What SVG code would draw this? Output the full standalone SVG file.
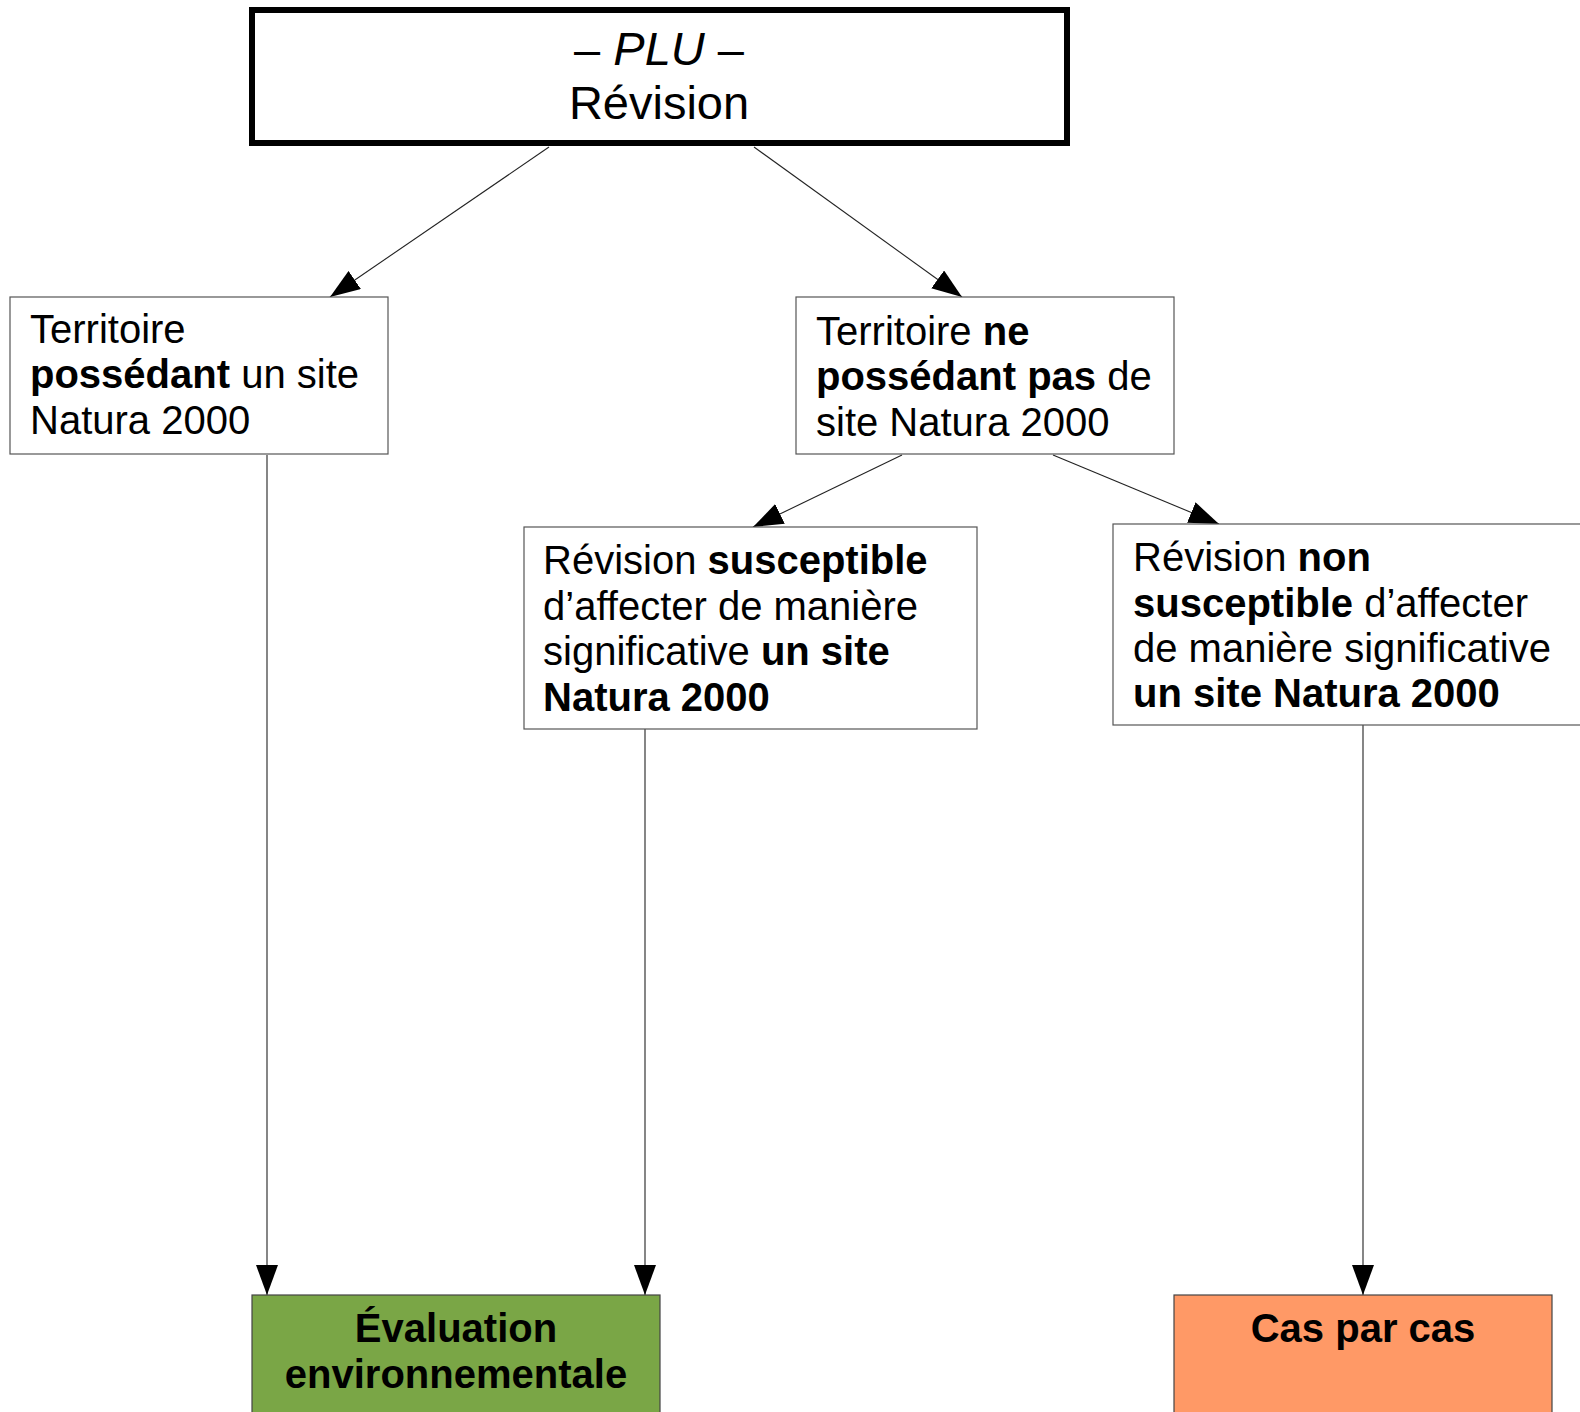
<svg xmlns="http://www.w3.org/2000/svg" width="1580" height="1412" viewBox="0 0 1580 1412">
<style>
text{font-family:"Liberation Sans",Arial,sans-serif;fill:#000}
.t{font-size:40px}
.b{font-weight:bold}
.box{fill:#fff;stroke:#555;stroke-width:1.2}
.edge{stroke:#222;stroke-width:1.1;fill:none;marker-end:url(#ah)}
</style>
<defs>
<marker id="ah" markerUnits="userSpaceOnUse" markerWidth="30" markerHeight="22" refX="30" refY="11" orient="auto" viewBox="0 0 30 22">
<path d="M0,0 L30,11 L0,22 z" fill="#000"/>
</marker>
</defs>
<rect width="1580" height="1412" fill="#fff"/>
<g id="connectors">
<line class="edge" x1="549" y1="147" x2="330" y2="297"/>
<line class="edge" x1="754" y1="147" x2="962" y2="297"/>
<line class="edge" x1="902" y1="455" x2="753" y2="527"/>
<line class="edge" x1="1053" y1="455" x2="1219" y2="524"/>
<line class="edge" x1="267" y1="455" x2="267" y2="1295"/>
<line class="edge" x1="645" y1="729" x2="645" y2="1295"/>
<line class="edge" x1="1363" y1="725" x2="1363" y2="1295"/>
</g>
<g id="n-plu">
<rect x="252" y="10" width="815" height="133" fill="#fff" stroke="#000" stroke-width="6"/>
<text x="659" y="65" text-anchor="middle" style="font-size:47px"><tspan>– </tspan><tspan font-style="italic">PLU</tspan><tspan> –</tspan></text>
<text x="659" y="119" text-anchor="middle" style="font-size:47px">Révision</text>
</g>
<g id="n-possedant">
<rect class="box" x="10" y="297" width="378" height="157"/>
<text class="t" x="30" y="343">Territoire</text>
<text class="t" x="30" y="388"><tspan class="b">possédant</tspan> un site</text>
<text class="t" x="30" y="434">Natura 2000</text>
</g>
<g id="n-nepossedant">
<rect class="box" x="796" y="297" width="378" height="157"/>
<text class="t" x="816" y="345">Territoire <tspan class="b">ne</tspan></text>
<text class="t" x="816" y="390"><tspan class="b">possédant pas</tspan> de</text>
<text class="t" x="816" y="436">site Natura 2000</text>
</g>
<g id="n-susceptible">
<rect class="box" x="524" y="527" width="453" height="202"/>
<text class="t" x="543" y="574">Révision <tspan class="b">susceptible</tspan></text>
<text class="t" x="543" y="620">d’affecter de manière</text>
<text class="t" x="543" y="665">significative <tspan class="b">un site</tspan></text>
<text class="t b" x="543" y="711">Natura 2000</text>
</g>
<g id="n-nonsusceptible">
<rect class="box" x="1113" y="524" width="480" height="201"/>
<text class="t" x="1133" y="571">Révision <tspan class="b">non</tspan></text>
<text class="t" x="1133" y="617"><tspan class="b">susceptible</tspan> d’affecter</text>
<text class="t" x="1133" y="662">de manière significative</text>
<text class="t b" x="1133" y="707">un site Natura 2000</text>
</g>
<g id="n-evaluation">
<rect x="252" y="1295" width="408" height="130" fill="#7aa646" stroke="#444" stroke-width="1.2"/>
<text class="t b" x="456" y="1342" text-anchor="middle">Évaluation</text>
<text class="t b" x="456" y="1388" text-anchor="middle">environnementale</text>
</g>
<g id="n-casparcas">
<rect x="1174" y="1295" width="378" height="130" fill="#ff9966" stroke="#444" stroke-width="1.2"/>
<text class="t b" x="1363" y="1342" text-anchor="middle">Cas par cas</text>
</g>
</svg>
